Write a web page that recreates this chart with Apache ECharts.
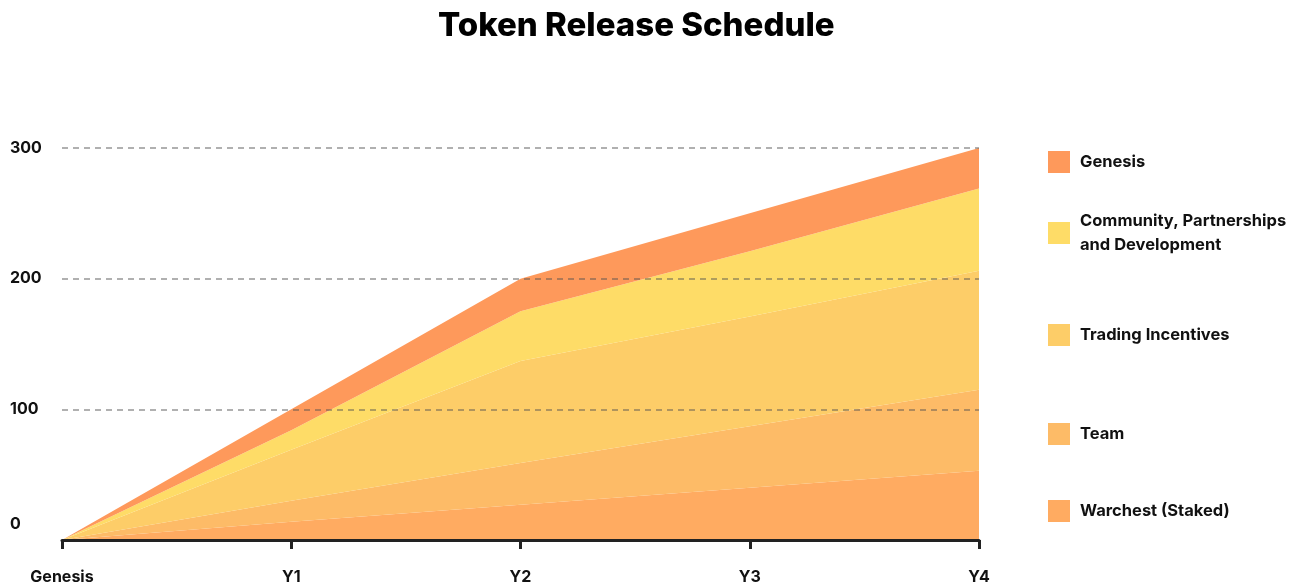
<!DOCTYPE html>
<html>
<head>
<meta charset="utf-8">
<script src="https://cdn.jsdelivr.net/npm/echarts@6/dist/echarts.min.js"></script>
<style>
  html, body { margin: 0; padding: 0; background: #fff; }
  #chart { width: 1308px; height: 585px; }
</style>
</head>
<body>
<div id="chart"></div>
<script>
  const categories = ["Genesis", "Y1", "Y2", "Y3", "Y4"];
  const yTicks = [0, 100, 200, 300];

  // stacked from the bottom up
  const warchest = [0, 14, 27, 40, 53];
  const team = [0, 16, 32, 47, 62];
  const trading = [0, 39, 78, 84, 91];
  const community = [0, 15, 38, 50, 63];
  const genesis = [0, 16, 25, 29, 31];

  const seriesNames = ["Warchest (Staked)", "Team", "Trading Incentives", "Community, Partnerships\nand Development", "Genesis"];
  const seriesData = [warchest, team, trading, community, genesis];
  const colors = ["#FFAB61", "#FDBB67", "#FDCD68", "#FEDC67", "#FE995B"];

  const font = "Inter, 'Noto Sans', sans-serif";

  // legend rows: name and top of the row
  const legendRows = [
    { name: "Genesis", top: 150 },
    { name: "Community, Partnerships\nand Development", top: 209 },
    { name: "Trading Incentives", top: 323 },
    { name: "Team", top: 422 },
    { name: "Warchest (Staked)", top: 499 }
  ];

  const chart = echarts.init(document.getElementById("chart"));

  const option = {
    animation: false,
    color: colors,
    title: {
      text: "Token Release Schedule",
      left: 433,
      top: 5,
      textStyle: {
        fontFamily: font,
        fontSize: 33,
        fontWeight: 800,
        color: "#000"
      }
    },
    legend: legendRows.map(r => ({
      data: [r.name],
      orient: "vertical",
      left: 1048,
      top: r.top,
      padding: 0,
      icon: "rect",
      itemWidth: 22,
      itemHeight: 22,
      selectedMode: false,
      textStyle: {
        fontFamily: font,
        fontSize: 16.5,
        fontWeight: 700,
        color: "#111",
        lineHeight: 24,
        padding: [0, 0, 0, 5]
      }
    })),
    grid: {
      left: 62,
      right: 329,
      top: 148,
      bottom: 44
    },
    xAxis: {
      type: "category",
      boundaryGap: false,
      data: categories,
      z: 5,
      axisLine: { lineStyle: { color: "#222", width: 3 } },
      axisTick: { show: true, length: 9, lineStyle: { color: "#222", width: 3 } },
      axisLabel: {
        margin: 29,
        fontFamily: font,
        fontSize: 16,
        fontWeight: 700,
        color: "#111"
      }
    },
    yAxis: {
      type: "value",
      min: yTicks[0],
      max: yTicks[yTicks.length - 1],
      interval: 100,
      z: 5,
      axisLine: { show: false },
      axisTick: { show: false },
      splitLine: {
        lineStyle: { color: "rgba(80,80,80,0.45)", width: 2, type: [6, 5] }
      },
      axisLabel: {
        align: "left",
        margin: 52,
        fontFamily: font,
        fontSize: 16,
        fontWeight: 700,
        color: "#111",
        formatter: v => (v === 0 ? "{zero|0}" : String(v)),
        rich: {
          zero: {
            fontFamily: font,
            fontSize: 16,
            fontWeight: 700,
            color: "#111",
            padding: [0, 0, 32, 0]
          }
        }
      }
    },
    series: seriesData.map((d, i) => ({
      name: seriesNames[i],
      type: "line",
      stack: "total",
      data: d,
      symbol: "none",
      lineStyle: { width: 0 },
      areaStyle: { color: colors[i], opacity: 1 },
      z: 2
    }))
  };

  chart.setOption(option);
</script>
</body>
</html>
